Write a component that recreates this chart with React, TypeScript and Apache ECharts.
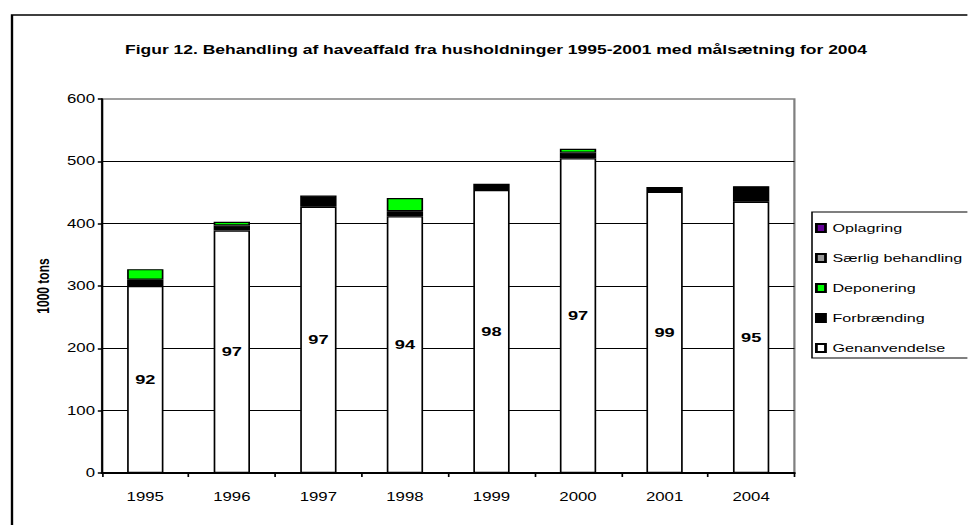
import React, { useEffect, useRef } from "react";
import * as echarts from "echarts";

const categories = ["1995", "1996", "1997", "1998", "1999", "2000", "2001", "2004"];
const genanvendelse = [300, 389, 427, 412, 454, 505, 451, 435];
const forbraending = [10, 8, 18, 8, 10, 9, 8, 25];
const deponering = [17, 6, 0, 21, 0, 6, 0, 0];
const saerlig = [0, 0, 0, 0, 0, 0, 0, 0];
const oplagring = [0, 0, 0, 0, 0, 0, 0, 0];
const percentLabels = ["92", "97", "97", "94", "98", "97", "99", "95"];
const legendOrder = ["Oplagring", "Særlig behandling", "Deponering", "Forbrænding", "Genanvendelse"];
const yTicks = { min: 0, max: 600, interval: 100 };

const FONT = "'Liberation Sans', Arial, sans-serif";
// The reference picture is stretched horizontally; reproduce that with a scaleX on the chart box.
const SX = 1.4;
const W = 968 / SX;
const H = 525;
const ux = (x: number) => x / SX;

export default function App() {
  const ref = useRef<HTMLDivElement>(null);
  useEffect(() => {
    if (!ref.current) return;
    const chart = echarts.init(ref.current, null, { renderer: "svg" });
    const nz = (arr: number[]) => arr.map((v) => (v === 0 ? null : v));
    const border = { borderColor: "#000", borderWidth: 1.2 };
    const barBase = {
      type: "bar",
      stack: "total",
      barCategoryGap: "58%",
    };
    chart.setOption({
      animation: false,
      textStyle: { fontFamily: FONT },
      title: {
        text: "Figur 12. Behandling af haveaffald fra husholdninger 1995-2001 med målsætning for 2004",
        left: ux(489),
        textAlign: "center",
        top: 38,
        textStyle: { fontFamily: FONT, fontSize: 12.5, fontWeight: "bold", color: "#000" },
      },
      graphic: [
        {
          type: "rect",
          shape: { x: ux(12), y: 15, width: 1000, height: 600 },
          style: { fill: "none", stroke: "#000", lineWidth: 1.7 },
          silent: true,
          z: -10,
        },
        {
          type: "rect",
          shape: { x: ux(812), y: 212, width: 200, height: 146 },
          style: { fill: "#fff", stroke: "#000", lineWidth: 1.1 },
          silent: true,
          z: 0,
        },
      ],
      legend: {
        data: legendOrder,
        orient: "vertical",
        left: ux(815),
        top: 221,
        padding: 0,
        itemWidth: 6.5,
        itemHeight: 8,
        itemGap: 16,
        icon: "rect",
        z: 10,
        textStyle: { fontFamily: FONT, fontSize: 11.5, color: "#000", lineHeight: 14 },
      },
      grid: {
        left: ux(102),
        right: W - ux(795),
        top: 99,
        bottom: 52,
        show: true,
        borderColor: "#808080",
        borderWidth: 1.6,
        backgroundColor: "transparent",
      },
      xAxis: {
        type: "category",
        data: categories,
        axisLine: { lineStyle: { color: "#000", width: 2 } },
        axisTick: { show: true, inside: false, length: 4, lineStyle: { color: "#000", width: 1.2 } },
        axisLabel: { margin: 18, fontFamily: FONT, fontSize: 12, color: "#000" },
      },
      yAxis: {
        type: "value",
        min: yTicks.min,
        max: yTicks.max,
        interval: yTicks.interval,
        name: "1000 tons",
        nameLocation: "middle",
        nameRotate: 90,
        nameGap: 33,
        nameTextStyle: { fontFamily: FONT, fontSize: 12, fontWeight: "bold", color: "#000" },
        axisLine: { show: true, lineStyle: { color: "#000", width: 1.5 } },
        axisTick: { show: true, inside: false, length: 3, lineStyle: { color: "#000", width: 1.5 } },
        axisLabel: { margin: 5, fontFamily: FONT, fontSize: 12, color: "#000" },
        splitLine: { show: true, showMaxLine: false, lineStyle: { color: "#000", width: 1 } },
      },
      series: [
        {
          ...barBase,
          name: "Genanvendelse",
          data: genanvendelse,
          itemStyle: { color: "#fff", ...border },
          label: {
            show: true,
            position: "inside",
            formatter: (p: any) => percentLabels[p.dataIndex],
            fontFamily: FONT,
            fontSize: 13,
            fontWeight: "bold",
            color: "#000",
          },
        },
        {
          ...barBase,
          name: "Forbrænding",
          data: nz(forbraending),
          itemStyle: { color: "#000", ...border },
        },
        {
          ...barBase,
          name: "Deponering",
          data: nz(deponering),
          itemStyle: { color: "#00ff00", ...border },
        },
        {
          ...barBase,
          name: "Særlig behandling",
          data: nz(saerlig),
          itemStyle: { color: "#999999", ...border },
        },
        {
          ...barBase,
          name: "Oplagring",
          data: nz(oplagring),
          itemStyle: { color: "#660099", ...border },
        },
      ],
    });
    return () => chart.dispose();
  }, []);
  return (
    <div
      style={{ position: "fixed", left: 0, top: 0, width: 968, height: H, overflow: "hidden", background: "#fff" }}
    >
      <div
        ref={ref}
        style={{
          width: W,
          height: H,
          transform: `scaleX(${SX})`,
          transformOrigin: "0 0",
        }}
      />
    </div>
  );
}
